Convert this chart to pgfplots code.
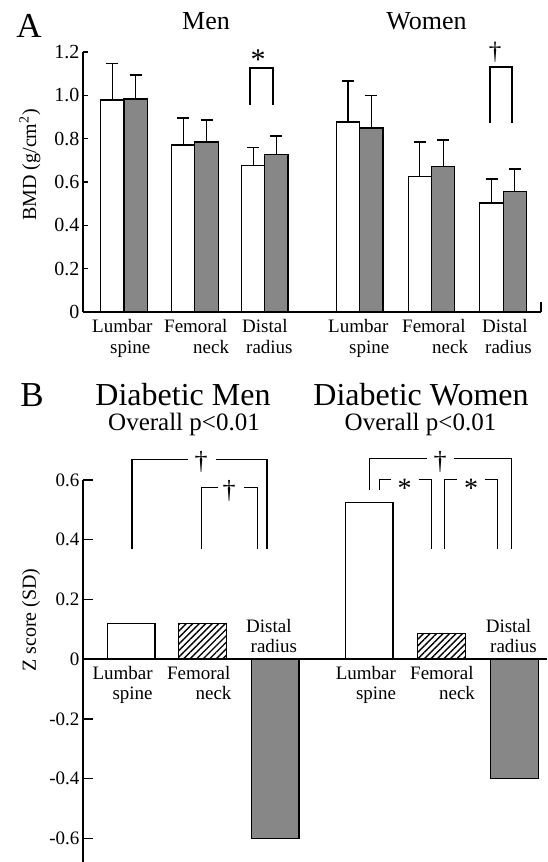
\documentclass[border=0pt]{standalone}
\usepackage{fontspec}
\setmainfont{Liberation Serif}
\usepackage{pgfplots}
\pgfplotsset{compat=1.18}
\usepackage{pgfplotstable}
\usetikzlibrary{patterns.meta}
\definecolor{barGray}{RGB}{135,135,135}

% Panel A: BMD (g/cm^2), columns: position, mean, SD
\pgfplotstableread{
x y e
112.3 0.978 0.168
183.2 0.771 0.124
253.1 0.675 0.086
348.0 0.877 0.189
419.8 0.624 0.161
491.5 0.503 0.111
}\Awhite
\pgfplotstableread{
x y e
135.6 0.983 0.111
206.5 0.785 0.101
276.4 0.728 0.084
371.3 0.849 0.152
443.1 0.671 0.123
514.8 0.555 0.105
}\Agray
% Panel B: Z scores
\pgfplotstableread{
x y
131.1 0.120
369.1 0.525
}\Bwhite
\pgfplotstableread{
x y
202.4 0.120
441.5 0.085
}\Bhatch
\pgfplotstableread{
x y
275.1 -0.600
514.6 -0.400
}\Bgray

\newcommand{\lbl}[3]{\node[anchor=base west, inner sep=0pt, font=\fontsize{19}{22}\selectfont] at (#1pt, 862pt-#2pt) {#3};}
\newcommand{\ttl}[4]{\node[anchor=base, inner sep=0pt, font=\fontsize{#4}{#4}\selectfont] at (#1pt, 862pt-#2pt) {#3};}

\begin{document}
\begin{tikzpicture}
\path[use as bounding box, fill=white] (0,0) rectangle (547pt,862pt);

% ---------------- Panel A ----------------
\begin{axis}[at={(83pt,550pt)}, anchor=south west, scale only axis,
  width=458pt, height=260pt, xmin=83, xmax=541, ymin=0, ymax=1.2,
  axis lines*=left, axis line style={line width=1.5pt},
  xtick=\empty, ytick={0,0.2,0.4,0.6,0.8,1.0,1.2},
  yticklabels={0,0.2,0.4,0.6,0.8,1.0,1.2},
  tick align=inside, major tick length=5pt,
  tick style={line width=1.2pt, black},
  yticklabel style={font=\fontsize{20}{24}\selectfont},
  clip=false]
\addplot[ybar, bar width=23.3, bar shift=0pt, draw=black, fill=white, line width=1.2pt,
  error bars/.cd, y dir=plus, y explicit,
  error bar style={line width=1.2pt},
  error mark options={rotate=90, mark size=6pt, line width=1.2pt}]
  table[x=x, y=y, y error=e] {\Awhite};
\addplot[ybar, bar width=23.3, bar shift=0pt, draw=black, fill=barGray, line width=1.2pt,
  error bars/.cd, y dir=plus, y explicit,
  error bar style={line width=1.2pt},
  error mark options={rotate=90, mark size=6pt, line width=1.2pt}]
  table[x=x, y=y, y error=e] {\Agray};
\draw[line width=1.5pt] (axis cs:541,0) -- (axis cs:541,0.046);
% significance brackets
\draw[line width=1.2pt] (axis cs:250,0.955) -- (axis cs:250,1.126) -- (axis cs:273,1.126) -- (axis cs:273,0.955);
\node[anchor=base, inner sep=0pt, font=\fontsize{30}{30}\selectfont] at (axis cs:258,1.12) {*};
\draw[line width=1.2pt] (axis cs:490,0.872) -- (axis cs:490,1.131) -- (axis cs:512,1.131) -- (axis cs:512,0.872);
\node[anchor=base, inner sep=0pt, font=\fontsize{25}{25}\selectfont] at (axis cs:495,1.165) {†};
\end{axis}

% ---------------- Panel B ----------------
\begin{axis}[at={(83pt,0pt)}, anchor=south west, scale only axis,
  width=464pt, height=382pt, xmin=83, xmax=547, ymin=-0.679, ymax=0.6,
  axis y line*=left, axis x line=none, axis line style={line width=1.5pt},
  xtick=\empty, ytick={-0.6,-0.4,-0.2,0,0.2,0.4,0.6},
  yticklabels={-0.6,-0.4,-0.2,0,0.2,0.4,0.6},
  tick align=inside, major tick length=10pt,
  tick style={line width=1.2pt, black},
  yticklabel style={font=\fontsize{19}{23}\selectfont},
  clip=false]
\addplot[ybar, bar width=47.8, bar shift=0pt, draw=black, fill=white, line width=1.2pt]
  table[x=x, y=y] {\Bwhite};
\addplot[ybar, bar width=47.8, bar shift=0pt, draw=black, line width=1.2pt,
  pattern={Lines[angle=45, distance=4.6pt, line width=1.4pt]}]
  table[x=x, y=y] {\Bhatch};
\addplot[ybar, bar width=47.8, bar shift=0pt, draw=black, fill=barGray, line width=1.2pt]
  table[x=x, y=y] {\Bgray};
\draw[line width=1.5pt] (axis cs:83,0) -- (axis cs:547,0);
% Men brackets
\draw[line width=1.2pt] (axis cs:131.9,0.368) -- (axis cs:131.9,0.669) -- (axis cs:188.4,0.669);
\draw[line width=1.2pt] (axis cs:215.6,0.669) -- (axis cs:266.9,0.669) -- (axis cs:266.9,0.368);
\node[anchor=base, inner sep=0pt, font=\fontsize{26}{26}\selectfont] at (axis cs:201,0.635) {†};
\draw[line width=1.2pt] (axis cs:201.6,0.368) -- (axis cs:201.6,0.575) -- (axis cs:218,0.575);
\draw[line width=1.2pt] (axis cs:244.2,0.575) -- (axis cs:257.5,0.575) -- (axis cs:257.5,0.368);
\node[anchor=base, inner sep=0pt, font=\fontsize{26}{26}\selectfont] at (axis cs:229,0.538) {†};
% Women brackets
\draw[line width=1.2pt] (axis cs:369.1,0.565) -- (axis cs:369.1,0.672) -- (axis cs:427.4,0.672);
\draw[line width=1.2pt] (axis cs:453.5,0.672) -- (axis cs:511.1,0.672) -- (axis cs:511.1,0.368);
\node[anchor=base, inner sep=0pt, font=\fontsize{26}{26}\selectfont] at (axis cs:440,0.635) {†};
\draw[line width=1.2pt] (axis cs:379.6,0.565) -- (axis cs:379.6,0.602) -- (axis cs:390.7,0.602);
\draw[line width=1.2pt] (axis cs:418.6,0.602) -- (axis cs:431.5,0.602) -- (axis cs:431.5,0.368);
\node[anchor=base, inner sep=0pt, font=\fontsize{28}{28}\selectfont] at (axis cs:404.7,0.542) {*};
\draw[line width=1.2pt] (axis cs:444.8,0.368) -- (axis cs:444.8,0.602) -- (axis cs:457,0.602);
\draw[line width=1.2pt] (axis cs:485,0.602) -- (axis cs:497.1,0.602) -- (axis cs:497.1,0.368);
\node[anchor=base, inner sep=0pt, font=\fontsize{28}{28}\selectfont] at (axis cs:471,0.542) {*};
\end{axis}

% ---------------- Texts ----------------
\ttl{29}{38}{A}{35}
\ttl{206}{30}{Men}{26}
\ttl{426.5}{30}{Women}{26}
\node[rotate=90, font=\fontsize{20}{24}\selectfont, inner sep=0pt] at (30pt, 862pt-165pt) {BMD (g/cm\textsuperscript{2})};

\lbl{92}{333}{Lumbar}   \lbl{110}{354}{spine}
\lbl{164}{333}{Femoral} \lbl{193}{354}{neck}
\lbl{242}{333}{Distal}  \lbl{246}{354}{radius}
\lbl{328}{333}{Lumbar}  \lbl{349}{354}{spine}
\lbl{402}{333}{Femoral} \lbl{432}{354}{neck}
\lbl{482}{333}{Distal}  \lbl{485}{354}{radius}

\ttl{32}{407}{B}{35}
\ttl{183}{406}{Diabetic Men}{32}
\ttl{184}{431}{Overall p<0.01}{25}
\ttl{421}{406}{Diabetic Women}{32}
\ttl{420.5}{431}{Overall p<0.01}{25}
\node[rotate=90, font=\fontsize{20}{24}\selectfont, inner sep=0pt] at (31pt, 862pt-620pt) {Z score (SD)};

\lbl{92.4}{680}{Lumbar}   \lbl{112.3}{700}{spine}
\lbl{166.8}{680}{Femoral} \lbl{195.4}{700}{neck}
\lbl{246}{633}{Distal}    \lbl{250.5}{653}{radius}
\lbl{335.6}{680}{Lumbar}  \lbl{355.8}{700}{spine}
\lbl{410}{680}{Femoral}   \lbl{438.9}{700}{neck}
\lbl{485.6}{633}{Distal}  \lbl{490}{653}{radius}
\end{tikzpicture}
\end{document}
